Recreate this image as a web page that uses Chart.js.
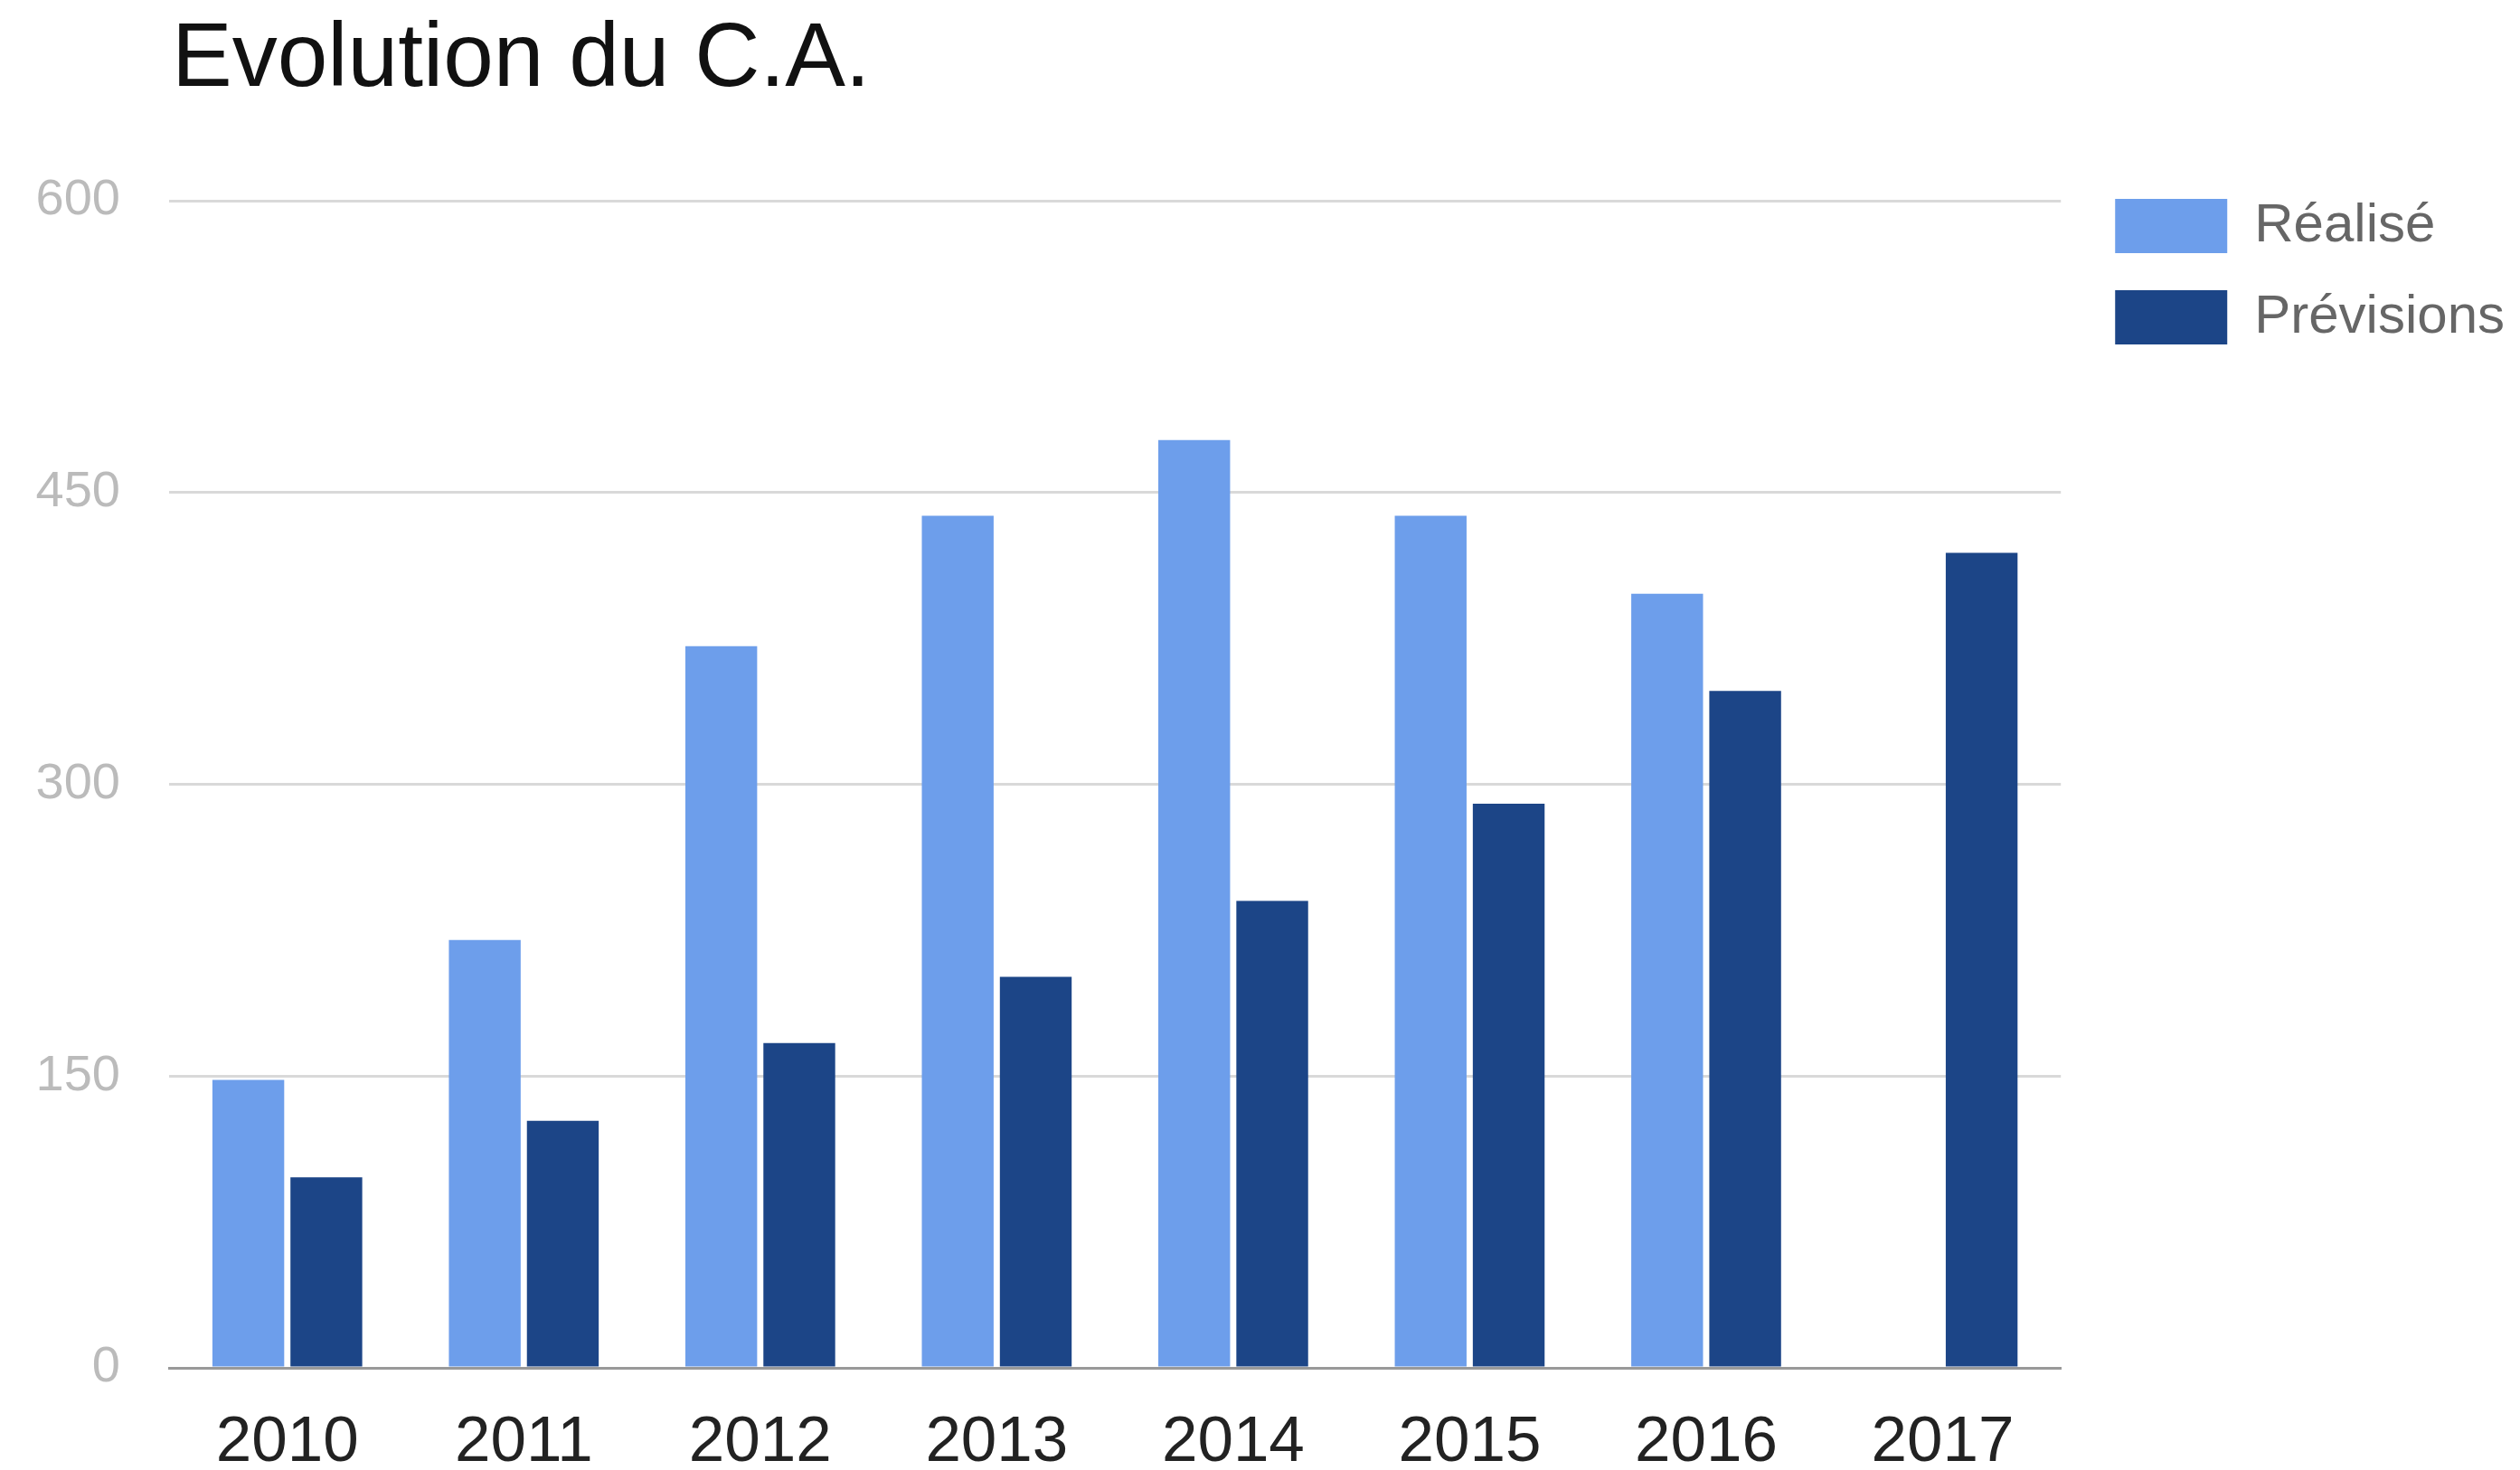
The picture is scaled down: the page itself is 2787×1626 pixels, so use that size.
<!DOCTYPE html>
<html>
<head>
<meta charset="utf-8">
<title>Evolution du C.A.</title>
<script src="https://cdn.jsdelivr.net/npm/chart.js@4.4.1/dist/chart.umd.min.js"></script>
<style>
    body { margin: 0; background: #fff; }
    #wrap { position: relative; width: 2787px; height: 1626px; }
    #titre {
        position: absolute; left: 190px; top: 10px;
        font-family: "Liberation Sans", Arial, sans-serif;
        font-size: 100px; line-height: 100px; color: #111;
        white-space: nowrap;
    }
    #myChart { position: absolute; left: 0; top: 0; }
</style>
</head>
<body>
<div id="wrap">
    <div id="titre">Evolution du C.A.</div>
    <canvas id="myChart" width="2787" height="1626"></canvas>
</div>
<script>
// data
var years = ['2010', '2011', '2012', '2013', '2014', '2015', '2016', '2017'];
var realise = [148, 220, 371, 438, 477, 438, 398, null];
var previsions = [98, 127, 167, 201, 240, 290, 348, 419];
var yTicks = [0, 150, 300, 450, 600];

var fontName = '"Liberation Sans", Arial, sans-serif';

// small plugin: nudge the legend so it sits where google put it
var legendShift = {
    id: 'legendShift',
    afterLayout: function(chart) {
        var lg = chart.legend;
        lg.left += 19; lg.right += 19;
        lg.top -= 43; lg.bottom -= 43;
    }
};

var ctx = document.getElementById('myChart').getContext('2d');

var chart = new Chart(ctx, {
    type: 'bar',
    data: {
        labels: years,
        datasets: [{
            label: 'Réalisé',
            data: realise,
            backgroundColor: '#6d9eeb'
        }, {
            label: 'Prévisions',
            data: previsions,
            backgroundColor: '#1c4587'
        }]
    },
    options: {
        responsive: false,
        animation: false,
        categoryPercentage: 0.66,
        barPercentage: 0.92,
        layout: {
            padding: { left: 40, right: 26, top: 222, bottom: 9 }
        },
        plugins: {
            title: { display: false },
            tooltip: { enabled: false },
            legend: {
                position: 'right',
                align: 'start',
                labels: {
                    boxWidth: 124,
                    boxHeight: 60,
                    padding: 41,
                    color: '#666',
                    font: { family: fontName, size: 60 }
                }
            }
        },
        scales: {
            x: {
                afterFit: function(axis) { axis.height = 104; }, // fixed band for the years
                grid: { display: false, drawTicks: false },
                border: { display: true, color: '#999', width: 3 },
                ticks: {
                    color: '#222',
                    padding: 48,
                    font: { family: fontName, size: 71, lineHeight: 1.0 }
                }
            },
            y: {
                min: 0,
                max: 600,
                afterBuildTicks: function(axis) {
                    axis.ticks = yTicks.map(function(v) { return { value: v }; });
                },
                afterFit: function(axis) { axis.width = 147; },
                grid: { color: '#d9d9d9', lineWidth: 3, drawTicks: false },
                border: { display: false },
                ticks: {
                    color: '#bbb',
                    padding: 54,
                    font: { family: fontName, size: 56 }
                }
            }
        }
    },
    plugins: [legendShift]
});
</script>
</body>
</html>
